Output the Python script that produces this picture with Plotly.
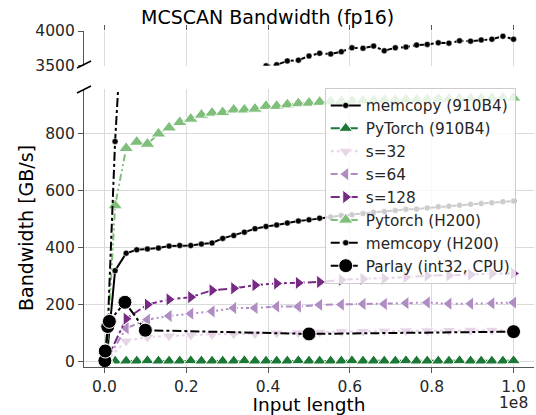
import plotly.graph_objects as go

# ---------------- data ----------------
# x positions (millions of elements)
X_DENSE = [0.5, 2.6, 5.3, 7.9, 10.5, 13.2, 15.8, 18.4, 21.1, 23.7, 26.3, 28.9, 31.6,
           34.2, 36.8, 39.5, 42.1, 44.7, 47.4, 50.0, 52.6, 55.3, 57.9, 60.5, 63.2,
           65.8, 68.4, 71.1, 73.7, 76.3, 78.9, 81.6, 84.2, 86.8, 89.5, 92.1, 94.7,
           97.4, 100.0]
X_S = [0.5, 5.3, 10.5, 15.8, 21.1, 26.3, 31.6, 36.8, 42.1, 47.4, 52.6, 57.9, 63.2,
       68.4, 73.7, 78.9, 84.2, 89.5, 94.7, 100.0]
X_PARLAY = [0.1, 0.2, 0.8, 1.2, 5.0, 10.0, 50.0, 100.0]

memcopy_910b4 = [3, 319, 380, 392, 395, 398, 405, 407, 407, 412, 416, 432, 442, 454,
                 466, 474, 479, 486, 493, 497, 503, 507, 512, 515, 519, 524, 526, 530,
                 534, 535, 539, 543, 545, 548, 552, 554, 557, 561, 563]
pytorch_910b4 = [0, 2, 2, 2, 3, 2, 2, 2, 3, 2, 2, 2, 2, 3, 2, 2, 2, 2, 3, 2, 2, 2, 2,
                 3, 2, 2, 2, 2, 3, 2, 2, 2, 2, 3, 2, 2, 2, 2, 3]
s32 = [3, 72, 86, 90, 93, 95, 97, 98, 100, 101, 103, 105, 106, 107, 108, 108, 109,
       110, 110, 111]
s64 = [4, 117, 147, 160, 168, 176, 188, 188, 193, 193, 199, 200, 202, 202, 205, 207,
       203, 203, 204, 207]
s128 = [5, 150, 200, 218, 226, 250, 257, 268, 274, 276, 279, 287, 290, 291, 296, 301,
        302, 305, 308, 309]
pytorch_h200 = [5, 547, 748, 770, 763, 799, 820, 839, 851, 865, 872, 874, 883, 883,
                886, 896, 896, 901, 905, 907, 910, 912, 913, 914, 915, 916, 917, 918,
                919, 919, 920, 921, 921, 922, 923, 923, 924, 925, 925]
memcopy_h200 = [10, 772, 1440, 1900, 2250, 2500, 2700, 2860, 2990, 3100, 3190, 3270,
                3340, 3400, 3450, 3495, 3510, 3567, 3577, 3639, 3677, 3667, 3700, 3757,
                3749, 3781, 3714, 3757, 3767, 3796, 3806, 3829, 3824, 3857, 3853, 3871,
                3881, 3924, 3881]
parlay = [3, 37, 123, 141, 208, 110, 97, 105]

X_TICKS = [0, 2e7, 4e7, 6e7, 8e7, 1e8]
X_TICKTEXT = ["0.0", "0.2", "0.4", "0.6", "0.8", "1.0"]
Y_TICKS_LOW = [0, 200, 400, 600, 800]
Y_TICKS_HIGH = [3500, 4000]

# ---------------- styling ----------------
PRGN = {"dpurple": "#762a83", "mpurple": "#af8dc3", "lpurple": "#e7d4e8",
        "lgreen": "#7fbf7b", "dgreen": "#1b7837"}
FONT = "DejaVu Sans"
TICKCOL = "#262626"
GRID = "#dadada"
SPINE = "#555555"


def mx(v):
    return [a * 1e6 for a in v]


fig = go.Figure()

series = [
    dict(name="memcopy (910B4)", x=mx(X_DENSE), y=memcopy_910b4, color="black",
         dash="solid", symbol="circle", size=6, lw=2),
    dict(name="PyTorch (910B4)", x=mx(X_DENSE), y=pytorch_910b4, color=PRGN["dgreen"],
         dash="dash", symbol="triangle-up", size=12, lw=2),
    dict(name="s=32", x=mx(X_S), y=s32, color=PRGN["lpurple"],
         dash="dot", symbol="triangle-down", size=12, lw=2),
    dict(name="s=64", x=mx(X_S), y=s64, color=PRGN["mpurple"],
         dash="7px,3px,2px,3px,2px,3px", symbol="triangle-left", size=12, lw=2),
    dict(name="s=128", x=mx(X_S), y=s128, color=PRGN["dpurple"],
         dash="dashdot", symbol="triangle-right", size=12, lw=2),
    dict(name="Pytorch (H200)", x=mx(X_DENSE), y=pytorch_h200, color=PRGN["lgreen"],
         dash="7px,3px,2px,3px,2px,3px", symbol="triangle-up", size=13, lw=2),
    dict(name="memcopy (H200)", x=mx(X_DENSE), y=memcopy_h200, color="black",
         dash="dashdot", symbol="circle", size=6, lw=2),
    dict(name="Parlay (int32, CPU)", x=mx(X_PARLAY), y=parlay, color="black",
         dash="dashdot", symbol="circle", size=14, lw=2),
]

for s in series:
    mk = dict(symbol=s["symbol"], size=s["size"], color=s["color"],
              line=dict(color="white", width=1 if s["size"] > 8 else 0.5))
    fig.add_trace(go.Scatter(x=s["x"], y=s["y"], name=s["name"], mode="lines+markers",
                             line=dict(color=s["color"], dash=s["dash"], width=s["lw"]),
                             marker=mk, xaxis="x", yaxis="y"))
# the H200 memcopy series also shows in the upper (broken) panel
for s in series:
    if s["name"] == "memcopy (H200)":
        fig.add_trace(go.Scatter(x=s["x"], y=s["y"], name=s["name"], mode="lines+markers",
                                 line=dict(color=s["color"], dash=s["dash"], width=s["lw"]),
                                 marker=dict(symbol="circle", size=6, color="black",
                                             line=dict(color="white", width=0.5)),
                                 xaxis="x2", yaxis="y2", showlegend=False))

W, H = 536, 415
ML, MR, MT, MB = 84, 1.5, 31, 48
PW, PH = W - ML - MR, H - MT - MB


def px(xp):
    return (xp - ML) / PW


def py(yp):
    return (H - MB - yp) / PH


low_top = py(89)
high_bot = py(65.5)

axis_common = dict(showgrid=True, gridcolor=GRID, gridwidth=1, zeroline=False,
                   tickfont=dict(family=FONT, size=15.5, color=TICKCOL),
                   tickcolor=SPINE, ticklen=5, tickwidth=1.2)

fig.update_layout(
    width=W, height=H,
    margin=dict(l=ML, r=MR, t=MT, b=MB, autoexpand=False),
    paper_bgcolor="white", plot_bgcolor="white",
    font=dict(family=FONT, color="black"),
    title=dict(text="MCSCAN Bandwidth (fp16)", x=px(309), xanchor="center",
               y=1 - 17 / H, yanchor="middle",
               font=dict(family=FONT, size=19, color="black")),
    xaxis=dict(domain=[0, 1], range=[-5e6, 1.05e8], anchor="y",
               tickvals=X_TICKS, ticktext=X_TICKTEXT, ticks="outside",
               showline=True, linecolor=SPINE, linewidth=1.2,
               title=dict(text="Input length", standoff=5,
                          font=dict(family=FONT, size=18.5, color="black")),
               **axis_common),
    xaxis2=dict(domain=[0, 1], matches="x", anchor="y2", side="top",
                tickvals=X_TICKS, showticklabels=False, ticks="outside",
                showline=False, **axis_common),
    yaxis=dict(domain=[0, low_top], range=[-19, 956], anchor="x",
               tickvals=Y_TICKS_LOW, ticks="outside",
               showline=True, linecolor=SPINE, linewidth=1.2,
               title=dict(text="Bandwidth [GB/s]", standoff=6,
                          font=dict(family=FONT, size=19, color="black")),
               **axis_common),
    yaxis2=dict(domain=[high_bot, 1], range=[3500, 4000], anchor="x2",
                tickvals=Y_TICKS_HIGH, ticks="outside",
                showline=True, linecolor=SPINE, linewidth=1.2, **axis_common),
    legend=dict(x=px(325), y=py(88), xanchor="left", yanchor="top",
                bgcolor="rgba(255,255,255,0.8)", bordercolor="#cccccc", borderwidth=1,
                font=dict(family=FONT, size=15.3, color=TICKCOL), tracegroupgap=0,
                itemwidth=30),
    showlegend=True,
)

# break marks on the left spine
for (x0, y0, x1, y1) in [(77, 68, 91, 61), (77, 93, 91, 86)]:
    fig.add_shape(type="line", xref="paper", yref="paper",
                  x0=px(x0), y0=py(y0), x1=px(x1), y1=py(y1),
                  line=dict(color="black", width=1.5))

fig.add_annotation(text="1e8", xref="paper", yref="paper", x=px(514), y=py(403),
                   xanchor="center", yanchor="middle", showarrow=False,
                   font=dict(family=FONT, size=15.5, color=TICKCOL))

fig.write_html("out.html")
